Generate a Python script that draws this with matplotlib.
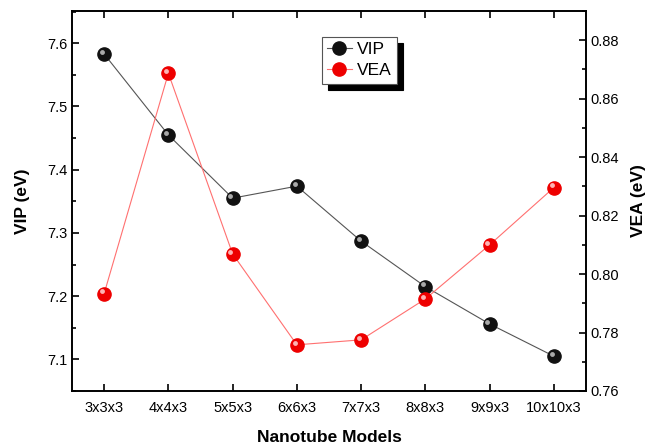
import matplotlib
matplotlib.use('Agg')
from matplotlib import pyplot as plt
from matplotlib.ticker import MultipleLocator
from matplotlib.transforms import offset_copy

models = ['3x3x3', '4x4x3', '5x5x3', '6x6x3', '7x7x3', '8x8x3', '9x9x3', '10x10x3']
vip = [7.583, 7.455, 7.355, 7.374, 7.287, 7.215, 7.156, 7.105]
vea = [0.7933, 0.8687, 0.8069, 0.7758, 0.7775, 0.7915, 0.8100, 0.8296]

plt.rcParams['font.family'] = ['Liberation Sans', 'DejaVu Sans']

fig = plt.figure(figsize=(6.51, 4.47), dpi=100)
ax = fig.add_axes([72/651, 1-391/447, (586-72)/651, (391-11)/447])
ax2 = ax.twinx()

x = list(range(len(models)))

def sphere(axis, y, color, shine, label):
    ln, = axis.plot(x, y, '-', color=color, lw=0.8, marker='o', ms=9.5,
                    mfc=shine[0], mec=shine[0], label=label, zorder=3)
    # little highlight to fake the 3d ball look
    hl = offset_copy(axis.transData, fig=fig, x=-1.6, y=1.6, units='points')
    axis.plot(x, y, 'o', ms=3.5, mfc=shine[1], mec='none', alpha=0.9,
              transform=hl, zorder=4)
    return ln

l1 = sphere(ax, vip, '#555555', ('#111111', '#bbbbbb'), 'VIP')
l2 = sphere(ax2, vea, '#ff7070', ('#ee0000', '#ffc8c8'), 'VEA')

ax.set_xlim(-0.5, 7.5)
ax.set_ylim(7.05, 7.651)
ax2.set_ylim(0.76, 0.890)

ax.set_xticks(x)
ax.set_xticklabels(models)
ax.yaxis.set_major_locator(MultipleLocator(0.1))
ax.yaxis.set_minor_locator(MultipleLocator(0.05))
ax2.yaxis.set_major_locator(MultipleLocator(0.02))
ax2.yaxis.set_minor_locator(MultipleLocator(0.01))
ax2.yaxis.set_major_formatter(plt.FormatStrFormatter('%.2f'))

ax.tick_params(axis='x', direction='in', top=True, length=5, width=1.2,
               labelsize=10.5, pad=7)
ax.tick_params(axis='y', which='major', direction='in', length=5, width=1.2,
               labelsize=10.5)
ax.tick_params(axis='y', which='minor', direction='in', length=3, width=1.2)
ax2.tick_params(axis='y', which='major', direction='in', length=5, width=1.2,
                labelsize=10.5)
ax2.tick_params(axis='y', which='minor', direction='in', length=3, width=1.2)
for a in (ax, ax2):
    for s in a.spines.values():
        s.set_linewidth(1.2)

ax.set_xlabel('Nanotube Models', fontsize=12.5, fontweight='bold', labelpad=11)
ax.set_ylabel('VIP (eV)', fontsize=12.5, fontweight='bold', labelpad=12)
ax2.set_ylabel('VEA (eV)', fontsize=12.5, fontweight='bold', labelpad=8)

leg = ax2.legend([l1, l2], ['VIP', 'VEA'], loc='upper left',
                 bbox_to_anchor=(250/514, 0.932), fontsize=12.5,
                 fancybox=False, framealpha=1, edgecolor='#555555',
                 handlelength=1.4, handletextpad=0.3, borderpad=0.3,
                 labelspacing=0.35, borderaxespad=0,
                 shadow={'ox': 4.5, 'oy': -4.5, 'color': 'black', 'alpha': 1})
leg.get_frame().set_linewidth(0.8)

fig.savefig('out.png', dpi=100)
